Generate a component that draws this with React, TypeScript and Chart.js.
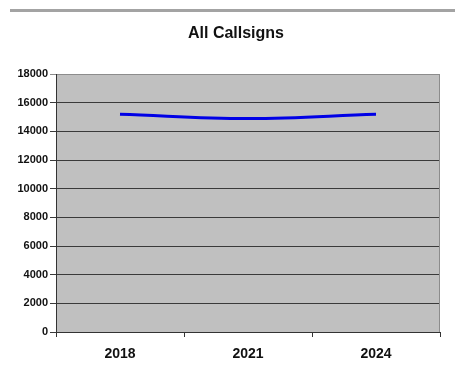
import React, { useEffect, useRef } from "react";
import { Chart, registerables } from "chart.js";

Chart.register(...registerables);

const chartTitle = "All Callsigns";
const years = ["2018", "2021", "2024"];
const callsignCounts = [15200, 14900, 15200];
const yTicks = { min: 0, max: 18000, step: 2000 };

const FONT = 'Arial, "Liberation Sans", sans-serif';

export default function App() {
  const ref = useRef<HTMLCanvasElement | null>(null);

  useEffect(() => {
    if (!ref.current) return;
    const bgPlugin = {
      id: "plotBg",
      beforeDraw(chart: any) {
        const { ctx, chartArea: a } = chart;
        ctx.save();
        ctx.fillStyle = "#c0c0c0";
        ctx.fillRect(a.left, a.top, a.right - a.left, a.bottom - a.top);
        ctx.restore();
      },
      afterDraw(chart: any) {
        const { ctx, chartArea: a } = chart;
        ctx.save();
        ctx.strokeStyle = "#8c8c8c";
        ctx.lineWidth = 1;
        ctx.beginPath();
        ctx.moveTo(a.right - 0.5, a.top);
        ctx.lineTo(a.right - 0.5, a.bottom);
        ctx.stroke();
        ctx.fillStyle = "#111";
        ctx.font = `bold 16px ${FONT}`;
        ctx.textAlign = "center";
        ctx.textBaseline = "middle";
        ctx.fillText(chartTitle, 236, 34);
        ctx.restore();
      },
    };

    const chart = new Chart(ref.current, {
      type: "line",
      data: {
        labels: years,
        datasets: [
          {
            data: callsignCounts,
            borderColor: "#0000e6",
            borderWidth: 3,
            pointRadius: 0,
            tension: 0.4,
            fill: false,
          },
        ],
      },
      options: {
        animation: false,
        responsive: true,
        maintainAspectRatio: false,
        layout: { padding: { top: 74, right: 15, left: 0, bottom: 0 } },
        plugins: {
          legend: { display: false },
          title: { display: false },
          tooltip: { enabled: false },
        },
        scales: {
          x: {
            type: "category",
            offset: true,
            grid: {
              offset: true,
              drawOnChartArea: false,
              drawTicks: true,
              tickLength: 5,
              color: "#333",
            },
            border: { color: "#333", width: 1 },
            ticks: {
              color: "#111",
              font: { family: FONT, size: 14, weight: "bold" },
              padding: 9,
              maxRotation: 0,
            },
            afterFit(scale: any) {
              scale.height = 42;
            },
          },
          y: {
            min: yTicks.min,
            max: yTicks.max,
            grid: {
              color: (c: any) =>
                c.tick && c.tick.value === yTicks.max ? "#8c8c8c" : "#3a3a3a",
              drawTicks: true,
              tickLength: 6,
            },
            border: { color: "#333", width: 1 },
            ticks: {
              stepSize: yTicks.step,
              color: "#111",
              font: { family: FONT, size: 11, weight: "bold" },
              padding: 2,
              callback: (v: any) => String(v),
            },
            afterFit(scale: any) {
              scale.width = 56;
            },
          },
        },
      },
      plugins: [bgPlugin],
    });
    return () => chart.destroy();
  }, []);

  return (
    <div style={{ position: "fixed", left: 0, top: 0, width: 455, height: 374, background: "#fff" }}>
      <div style={{ position: "absolute", left: 10, top: 9, width: 445, height: 3, background: "#a3a3a3" }} />
      <canvas ref={ref} style={{ position: "absolute", left: 0, top: 0 }} />
    </div>
  );
}
